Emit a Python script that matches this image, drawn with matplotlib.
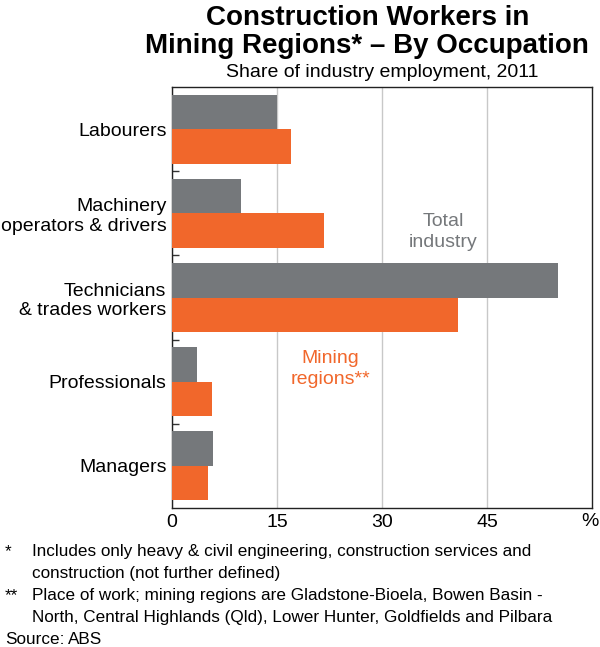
import matplotlib
matplotlib.use("Agg")
import matplotlib.pyplot as plt
import numpy as np

plt.rcParams["font.family"] = ["Liberation Sans", "DejaVu Sans"]

categories = ["Labourers", "Machinery\noperators & drivers", "Technicians\n& trades workers",
              "Professionals", "Managers"]
total_industry = [15.0, 9.8, 55.1, 3.6, 5.9]
mining_regions = [17.0, 21.7, 40.9, 5.7, 5.2]
x_ticks = [0, 15, 30, 45]

GREY = "#75787b"
ORANGE = "#f1672b"

fig = plt.figure(figsize=(6.0, 6.47), dpi=100)
ax = fig.add_axes([0.2867, 0.2148, 0.70, 0.6507])

y = np.arange(len(categories))
h = 0.41
ax.barh(y - h / 2, total_industry, height=h, color=GREY, zorder=3)
ax.barh(y + h / 2, mining_regions, height=h, color=ORANGE, zorder=3)

ax.set_ylim(len(categories) - 0.5, -0.5)
ax.set_xlim(0, 60)
ax.set_xticks(x_ticks)
ax.set_xticklabels([str(t) for t in x_ticks], fontsize=14)
ax.tick_params(axis="x", length=0, pad=4)
ax.grid(axis="x", color="#c8c8c8", lw=1, zorder=0)

ax.set_yticks(y)
ax.set_yticklabels(categories, fontsize=14, linespacing=1.2)
ax.tick_params(axis="y", length=0, pad=4)
# small boundary ticks between categories
ax.set_yticks(np.arange(0.5, len(categories) - 0.5), minor=True)
ax.tick_params(axis="y", which="minor", direction="in", length=5, width=1, color="#333333")

for s in ax.spines.values():
    s.set_color("#222222")
    s.set_linewidth(1)

ax.text(0.995, -0.012, "%", transform=ax.transAxes, ha="center", va="top", fontsize=14)

ax.text(38.7, 1.22, "Total\nindustry", color=GREY, ha="center", va="center",
        fontsize=14, linespacing=1.3)
ax.text(22.6, 2.85, "Mining\nregions**", color=ORANGE, ha="center", va="center",
        fontsize=14, linespacing=1.3)

fig.text(0.612, 0.992, "Construction Workers in\nMining Regions* \u2013 By Occupation",
         ha="center", va="top", fontsize=20, fontweight="bold", linespacing=1.1)
fig.text(0.637, 0.888, "Share of industry employment, 2011", ha="center", va="center",
         fontsize=14)

fs = 12.3
fig.text(0.008, 0.147, "*", ha="left", va="center", fontsize=fs)
fig.text(0.053, 0.147, "Includes only heavy & civil engineering, construction services and",
         ha="left", va="center", fontsize=fs)
fig.text(0.053, 0.113, "construction (not further defined)", ha="left", va="center", fontsize=fs)
fig.text(0.008, 0.079, "**", ha="left", va="center", fontsize=fs)
fig.text(0.053, 0.079, "Place of work; mining regions are Gladstone-Bioela, Bowen Basin -",
         ha="left", va="center", fontsize=fs)
fig.text(0.053, 0.045, "North, Central Highlands (Qld), Lower Hunter, Goldfields and Pilbara",
         ha="left", va="center", fontsize=fs)
fig.text(0.008, 0.011, "Source:", ha="left", va="center", fontsize=fs)
fig.text(0.113, 0.011, "ABS", ha="left", va="center", fontsize=fs)

fig.savefig("out.png", dpi=100)
